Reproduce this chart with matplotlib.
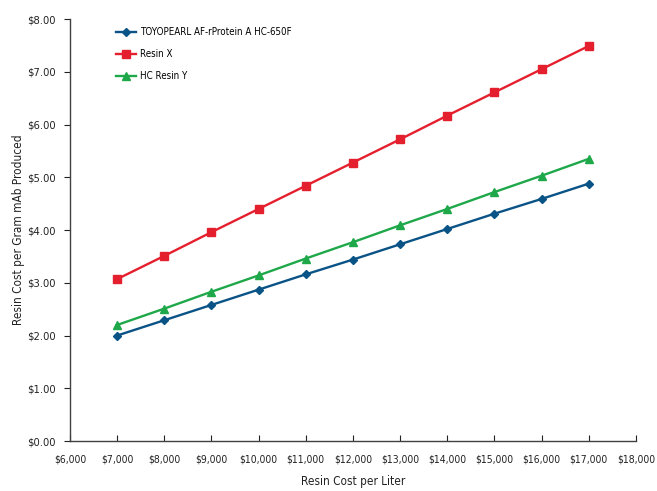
import numpy as np
import matplotlib
matplotlib.use("Agg")
import matplotlib.pyplot as plt
from matplotlib.ticker import FuncFormatter

plt.rcParams['font.family'] = ['DejaVu Sans']
plt.rcParams['font.stretch'] = 'condensed'

cost_per_liter = [7000, 8000, 9000, 10000, 11000, 12000, 13000, 14000, 15000, 16000, 17000]
toyopearl = [2.00, 2.29, 2.58, 2.87, 3.16, 3.44, 3.73, 4.02, 4.31, 4.59, 4.88]
resin_x = [3.07, 3.51, 3.96, 4.40, 4.84, 5.28, 5.72, 6.17, 6.61, 7.05, 7.49]
hc_resin_y = [2.20, 2.51, 2.83, 3.14, 3.46, 3.77, 4.09, 4.40, 4.72, 5.03, 5.35]

fig = plt.figure(figsize=(6.57, 4.91), dpi=100)
ax = fig.add_axes([0.1065, 0.1018, 0.8615, 0.8594])

ax.plot(cost_per_liter, toyopearl, color="#0a5386", marker="D", markersize=4,
        linewidth=1.7, label="TOYOPEARL AF-rProtein A HC-650F")
ax.plot(cost_per_liter, resin_x, color="#e5202e", marker="s", markersize=5.5,
        linewidth=1.7, label="Resin X")
ax.plot(cost_per_liter, hc_resin_y, color="#1fa84a", marker="^", markersize=6,
        linewidth=1.7, label="HC Resin Y")

ax.set_xlim(6000, 18000)
ax.set_ylim(0, 8)
ax.set_xticks(np.arange(6000, 18001, 1000))
ax.set_yticks(np.arange(0, 8.01, 1))
ax.xaxis.set_major_formatter(FuncFormatter(lambda v, p: "${:,.0f}".format(v)))
ax.yaxis.set_major_formatter(FuncFormatter(lambda v, p: "${:.2f}".format(v)))

for s in ["top", "right"]:
    ax.spines[s].set_visible(False)
for s in ["left", "bottom"]:
    ax.spines[s].set_color("#404040")
    ax.spines[s].set_linewidth(1)

ax.tick_params(axis="x", direction="in", length=4, labelsize=7.5, colors="#222222", pad=10)
ax.tick_params(axis="y", direction="out", length=4, labelsize=8, colors="#222222", pad=6)

ax.set_xlabel("Resin Cost per Liter", fontsize=8.5, color="#222222", labelpad=7)
ax.set_ylabel("Resin Cost per Gram mAb Produced", fontsize=8.5, color="#222222", labelpad=2)

ax.legend(loc="upper left", bbox_to_anchor=(0.066, 1.002), frameon=False, fontsize=7,
          labelspacing=1.25, handlelength=2, handletextpad=0.5)

fig.savefig("out.png", dpi=100)
